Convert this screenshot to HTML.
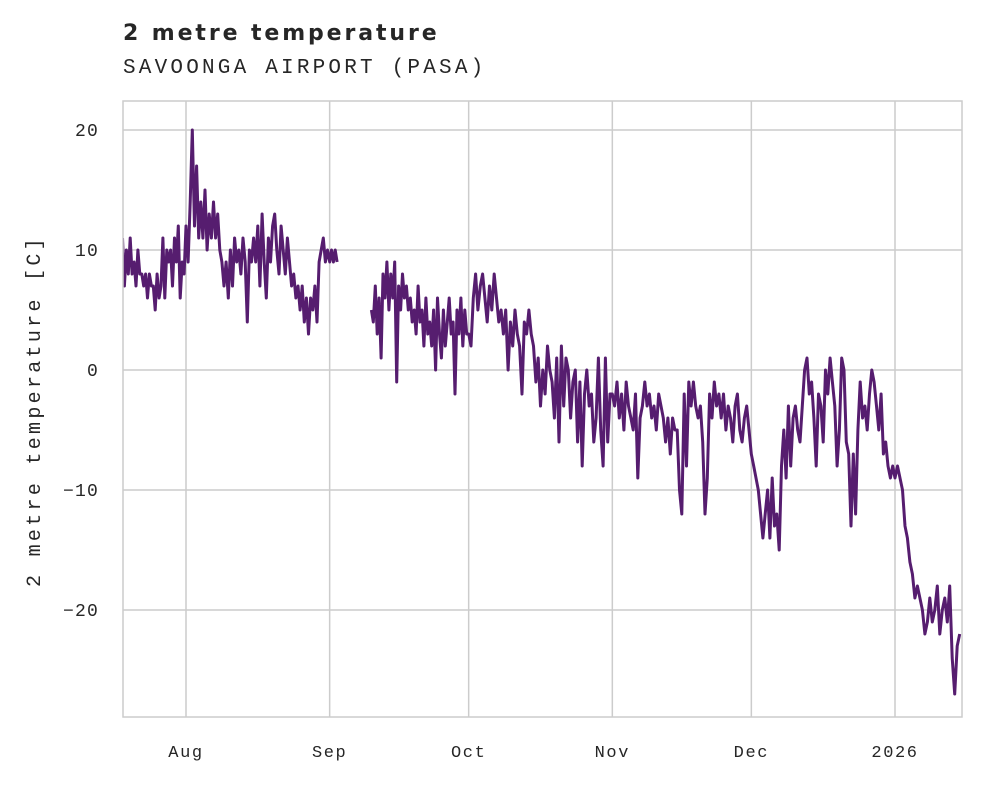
<!DOCTYPE html>
<html><head><meta charset="utf-8"><style>
body{margin:0;background:#fff}
svg text{font-family:"Liberation Mono","DejaVu Sans Mono",monospace;fill:#262626}
</style></head><body>
<svg id="chart" width="981" height="782" viewBox="0 0 981 782" xmlns="http://www.w3.org/2000/svg">
<defs><clipPath id="pc"><rect x="123" y="101" width="839" height="616"/></clipPath></defs>
<text x="123" y="40" style="font-family:'DejaVu Sans','Liberation Sans',sans-serif;font-weight:bold;font-size:22px;letter-spacing:2.9px">2 metre temperature</text>
<text x="123" y="73" style="font-size:21px;letter-spacing:3.2px">SAVOONGA AIRPORT (PASA)</text>
<text transform="translate(40,411) rotate(-90)" text-anchor="middle" style="font-size:20px;letter-spacing:3.3px">2 metre temperature [C]</text>
<g id="grid"></g>
<g id="series" clip-path="url(#pc)"></g>
<rect x="123" y="101" width="839" height="616" fill="none" stroke="#cccccc" stroke-width="1.5"/>
</svg>
<script>
// days relative to Aug 1
const monthTickDays=[0,31,61,92,122,153];
const monthTickLabels=["Aug","Sep","Oct","Nov","Dec","2026"];
const yTickValues=[20,10,0,-10,-20];
const yTickLabels=["20","10","0","\u221210","\u221220"];
const segStarts=[-13.7,0,31,40,61,92,122,153];
const segEnds=[0,31,33,61,92,122,153,167.5];
const julVals=[11,7,10,8,11,8,9,7,10,8,8,7,8,6,8,7,7,5,8,6,7,11,6,10,9,10,7,11,9,12,6,9,8];
const augVals=[12,9,14,20,12,17,11,14,11,15,10,13,11,14,11,13,10,9,7,9,6,10,7,11,9,10,8,11,9,4,10,9,11,9,12,7,13,9,6,11,9,12,13,10,8,12,10,8,11,9,7,8,6,7,5,7,4,6,3,6,5,7,4,9,10,11,9,10];
const sepEarlyVals=[9,10,9,10,9];
const sepVals=[5,4,7,3,6,1,8,6,9,5,8,6,9,-1,7,5,8,6,7,5,6,4,5,3,7,4,5,2,6,3,4,2,5,0,6,3,1,5,2,4,6,3,4,-2,5,3,6,2,5,3];
const octVals=[3,2,6,8,5,7,8,6,4,7,5,8,6,4,5,3,5,0,4,2,5,3,2,-2,4,3,5,3,2,-1,1,-3,0,-2,2,0,-1,-4,1,-6,2,-3,1,0,-4,-1,0,-6,-1,-8,-2,0,-3,-2,-6,-4,1,-5,-8,1,-6,-2];
const novVals=[-2,-3,-1,-4,-2,-5,-1,-3,-4,-5,-2,-9,-4,-3,-1,-3,-2,-4,-3,-5,-2,-3,-4,-6,-4,-7,-4,-5,-5,-10,-12,-2,-8,-1,-3,-1,-3,-4,-3,-6,-12,-9,-2,-4,-1,-3,-2,-4,-2,-5,-3,-4,-6,-3,-2,-5,-6,-4,-3,-5];
const decVals=[-7,-8,-9,-10,-12,-14,-12,-10,-14,-9,-13,-12,-15,-8,-5,-9,-3,-8,-4,-3,-5,-6,-3,0,1,-2,-1,-4,-8,-2,-3,-6,0,-2,1,-1,-3,-8,-5,1,0,-6,-7,-13,-7,-12,-5,-1,-4,-3,-5,-2,0,-1,-3,-5,-2,-7,-6,-8,-9,-8];
const janVals=[-9,-8,-9,-10,-13,-14,-16,-17,-19,-18,-19,-20,-22,-21,-19,-21,-20,-18,-22,-20,-19,-21,-18,-24,-27,-23,-22];
const segValues=[julVals,augVals,sepEarlyVals,sepVals,octVals,novVals,decVals,janVals];

const NS="http://www.w3.org/2000/svg";
const xScale=d=>186+d*(895-186)/153;
const yScale=v=>370-v*12;
const grid=document.getElementById('grid');
const series=document.getElementById('series');
function mk(t,a){const e=document.createElementNS(NS,t);for(const k in a)e.setAttribute(k,a[k]);return e;}
monthTickDays.forEach((d,i)=>{
  const x=xScale(d);
  const l=mk('line',{x1:x,x2:x,y1:101,y2:717,stroke:'#cccccc','stroke-width':1.5});
  
  
  grid.appendChild(l);
  const t=mk('text',{x:x,y:757,'text-anchor':'middle','font-size':'17','letter-spacing':'1.6'});
  t.textContent=monthTickLabels[i];
  
  
  grid.appendChild(t);
});
yTickValues.forEach((v,i)=>{
  const y=yScale(v);
  const l=mk('line',{x1:123,x2:962,y1:y,y2:y,stroke:'#cccccc','stroke-width':1.5});
  
  
  grid.appendChild(l);
  const t=mk('text',{x:99,y:y+6,'text-anchor':'end','font-size':'18','letter-spacing':'1.2'});
  t.textContent=yTickLabels[i];
  
  
  grid.appendChild(t);
});
const runs=[[0,1,2],[3,4,5,6,7]];
runs.forEach(r=>{
  let pts=[];
  r.forEach(si=>{
    const vals=segValues[si],s=segStarts[si],e=segEnds[si];
    const step=(e-s)/vals.length;
    vals.forEach((v,j)=>pts.push(xScale(s+j*step).toFixed(1)+','+yScale(v).toFixed(1)));
  });
  const p=mk('polyline',{points:pts.join(' '),fill:'none',stroke:'#561d6f','stroke-width':3,'stroke-linejoin':'round'});
  
  
  series.appendChild(p);
});
</script>
</body></html>
